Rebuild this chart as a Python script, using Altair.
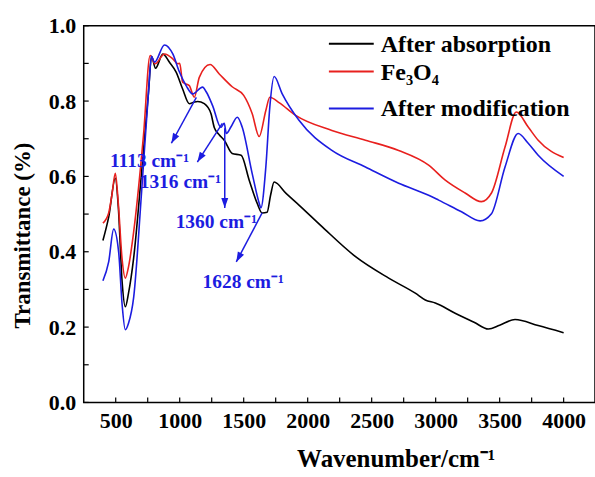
import altair as alt
import pandas as pd

# ---- data ----
abs_x = [400, 445, 497, 520, 550, 575, 600, 640, 702, 756, 780, 811, 868, 920, 972, 1023, 1075, 1110,
         1140, 1192, 1244, 1270, 1310, 1348, 1410, 1480, 1543, 1605, 1644, 1683, 1710, 1738, 1831, 1932,
         2114, 2374, 2633, 2841, 2919, 2997, 3152, 3300, 3412, 3500, 3620, 3801, 4000]
abs_y = [0.430, 0.492, 0.595, 0.520, 0.320, 0.254, 0.290, 0.383, 0.611, 0.823, 0.919, 0.887, 0.925, 0.903,
         0.877, 0.832, 0.793, 0.797, 0.799, 0.793, 0.767, 0.730, 0.710, 0.696, 0.661, 0.656, 0.590, 0.529,
         0.503, 0.505, 0.550, 0.585, 0.555, 0.524, 0.466, 0.387, 0.330, 0.290, 0.272, 0.264, 0.237, 0.213,
         0.195, 0.205, 0.220, 0.204, 0.185]

fe_x = [400, 445, 470, 497, 520, 550, 575, 600, 640, 717, 769, 808, 881, 946, 985, 1000, 1023, 1075, 1114,
        1153, 1237, 1309, 1410, 1500, 1566, 1621, 1673, 1704, 1776, 1906, 2189, 2451, 2711, 2945, 3075,
        3230, 3357, 3436, 3542, 3630, 3723, 3801, 4000]
fe_y = [0.476, 0.503, 0.550, 0.608, 0.530, 0.380, 0.330, 0.360, 0.452, 0.709, 0.921, 0.899, 0.925, 0.912,
        0.899, 0.900, 0.850, 0.841, 0.810, 0.863, 0.897, 0.872, 0.838, 0.815, 0.767, 0.706, 0.775, 0.810,
        0.796, 0.762, 0.722, 0.696, 0.669, 0.630, 0.590, 0.556, 0.533, 0.556, 0.678, 0.771, 0.731, 0.696,
        0.650]

mod_x = [400, 445, 484, 523, 550, 575, 600, 640, 702, 756, 780, 803, 881, 946, 998, 1050, 1101, 1179,
         1208, 1257, 1322, 1348, 1364, 1400, 1450, 1488, 1566, 1621, 1634, 1673, 1704, 1738, 1800, 1932,
         2189, 2451, 2711, 2945, 3023, 3202, 3347, 3436, 3542, 3645, 3723, 3801, 4000]
mod_y = [0.323, 0.373, 0.460, 0.399, 0.260, 0.193, 0.210, 0.278, 0.558, 0.823, 0.919, 0.903, 0.949, 0.925,
         0.877, 0.841, 0.819, 0.837, 0.824, 0.788, 0.730, 0.741, 0.714, 0.731, 0.757, 0.731, 0.608, 0.529,
         0.516, 0.625, 0.784, 0.865, 0.820, 0.749, 0.669, 0.625, 0.582, 0.550, 0.537, 0.506, 0.482, 0.501,
         0.625, 0.714, 0.688, 0.656, 0.600]

series_names = ["After absorption", "Fe\u2083O\u2084", "After modification"]
series_colors = ["#000000", "#e8201e", "#1c1ce0"]

# annotations
ann_labels = ["1113 cm\u207b\u00b9", "1316 cm\u207b\u00b9", "1360 cm\u207b\u00b9", "1628 cm\u207b\u00b9"]
ann_text_x = [764, 1005, 1286, 1496]
ann_text_y = [0.640, 0.585, 0.479, 0.320]
arrow_x1 = [1130, 1333, 1352, 1644]
arrow_y1 = [0.810, 0.741, 0.728, 0.503]
arrow_x2 = [935, 1138, 1352, 1442]
arrow_y2 = [0.688, 0.638, 0.516, 0.373]
arrow_angle = [208.5, 212.7, 180.0, 207.9]

x_ticks = [500, 750, 1000, 1250, 1500, 1750, 2000, 2250, 2500, 2750, 3000, 3250, 3500, 3750, 4000]
y_ticks = [0.0, 0.1, 0.2, 0.3, 0.4, 0.5, 0.6, 0.7, 0.8, 0.9, 1.0]

# ---- tables ----
rows = []
for name, xs, ys in zip(series_names, [abs_x, fe_x, mod_x], [abs_y, fe_y, mod_y]):
    for i, (a, b) in enumerate(zip(xs, ys)):
        rows.append({"series": name, "wn": a, "T": b, "i": i})
df = pd.DataFrame(rows)

ann = pd.DataFrame({"label": ann_labels, "tx": ann_text_x, "ty": ann_text_y,
                    "x1": arrow_x1, "y1": arrow_y1, "x2": arrow_x2, "y2": arrow_y2,
                    "ang": arrow_angle})
xt = pd.DataFrame({"v": x_ticks})
yt = pd.DataFrame({"v": y_ticks})

FONT = "Liberation Serif"
W, H = 513, 378
xscale = alt.Scale(domain=[250, 4245], nice=False, zero=False)
yscale = alt.Scale(domain=[0, 1], nice=False)
BLUE = "#1c1ce0"

lines = alt.Chart(df).mark_line(strokeWidth=1.6, interpolate="monotone", clip=True).encode(
    x=alt.X("wn:Q", scale=xscale,
            axis=alt.Axis(title="Wavenumber/cm\u207b\u00b9", values=[500, 1000, 1500, 2000, 2500, 3000, 3500, 4000],
                          format="d", ticks=False, domain=False, grid=False, labelPadding=8,
                          titleX=313, titleY=56, titleBaseline="middle", titleFontSize=25)),
    y=alt.Y("T:Q", scale=yscale,
            axis=alt.Axis(title="Transmittance (%)", values=[0, 0.2, 0.4, 0.6, 0.8, 1.0], format=".1f",
                          ticks=False, domain=False, grid=False, labelPadding=8,
                          titleX=-61, titleY=210, titleBaseline="middle", titleAlign="center",
                          titleFontSize=23)),
    color=alt.Color("series:N", scale=alt.Scale(domain=series_names, range=series_colors), legend=None),
    order=alt.Order("i:Q"),
    detail="series:N",
)

# hand-placed legend (layout only; names and colours come from the series lists)
legend_rows_px = [18, 46, 83]
legend_layers = []
for name, col, ry in zip(series_names, series_colors, legend_rows_px):
    sample = alt.Chart(pd.DataFrame({"n": [name]})).mark_rule(color=col, strokeWidth=2).encode(
        x=alt.value(246), x2=alt.value(291), y=alt.value(ry))
    lab = alt.Chart(pd.DataFrame({"n": [name]})).mark_text(
        font=FONT, fontWeight="bold", fontSize=24, color="black", align="left", baseline="middle").encode(
        x=alt.value(298), y=alt.value(ry + 1), text="n:N")
    legend_layers += [sample, lab]

xtick = alt.Chart(xt).mark_rule(color="black", strokeWidth=1.2).encode(
    x=alt.X("v:Q", scale=xscale), y=alt.value(H), y2=alt.value(H - 5))
ytick = alt.Chart(yt).mark_rule(color="black", strokeWidth=1.2).encode(
    y=alt.Y("v:Q", scale=yscale), x=alt.value(0), x2=alt.value(5))

arrows = alt.Chart(ann).mark_rule(color=BLUE, strokeWidth=1.5).encode(
    x=alt.X("x1:Q", scale=xscale), y=alt.Y("y1:Q", scale=yscale), x2="x2:Q", y2="y2:Q")
heads = alt.Chart(ann).mark_point(shape="M0,0L-0.42,1.2L0.42,1.2Z", filled=True, color=BLUE,
                                  size=280, opacity=1).encode(
    x=alt.X("x2:Q", scale=xscale), y=alt.Y("y2:Q", scale=yscale), angle=alt.Angle("ang:Q", scale=None))
texts = alt.Chart(ann).mark_text(font=FONT, fontWeight="bold", fontSize=19.5, color=BLUE,
                                 align="center", baseline="middle").encode(
    x=alt.X("tx:Q", scale=xscale), y=alt.Y("ty:Q", scale=yscale), text="label:N")

chart = alt.layer(lines, arrows, heads, texts, xtick, ytick, *legend_layers).properties(
    width=W, height=H,
    autosize=alt.AutoSizeParams(type="none"),
    padding={"left": 84, "top": 25, "right": 0, "bottom": 74},
    background="white",
).configure_view(stroke="black", strokeWidth=1.5).configure_axis(
    labelFont=FONT, labelFontWeight="bold", labelFontSize=22, labelColor="black",
    titleFont=FONT, titleFontWeight="bold", titleFontSize=24, titleColor="black",
)

chart.save("out.html", embed_options={"renderer": "svg", "actions": False})
